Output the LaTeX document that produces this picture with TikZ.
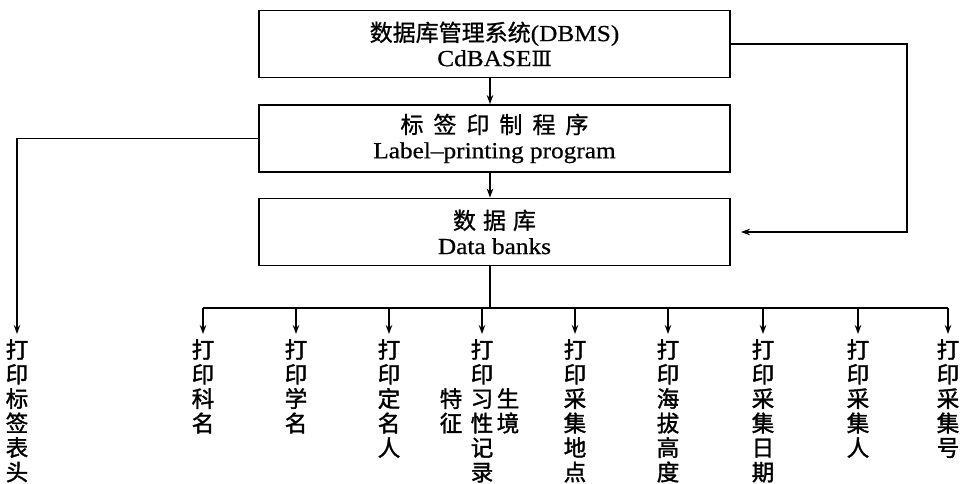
\documentclass[tikz,border=0pt]{standalone}
\usepackage{fontspec}
\setmainfont{Liberation Serif}[FakeStretch=1.1,FakeBold=0.6]
\newfontfamily\cjk{Noto Sans CJK SC}[FakeBold=1.0]
\newfontfamily\cjkb{Noto Sans CJK SC}[FakeBold=1.6]
\newfontfamily\romfont{DejaVu Serif}[FakeBold=0.6]
\usetikzlibrary{arrows.meta,calc}
\begin{document}
\begin{tikzpicture}[x=1pt,y=-1pt,
  box/.style={draw, line width=1.8pt, minimum width=471pt, minimum height=67pt,
    inner sep=0pt, align=center, font=\fontsize{23}{25}\selectfont},
  lbl/.style={anchor=north, inner sep=0pt, align=center,
    font=\cjkb\fontsize{22.5}{24.5}\selectfont},
  conn/.style={line width=1.6pt},
  arr/.style={conn, -{Stealth[length=9pt,width=6.5pt]}}]
\useasboundingbox (0,0) rectangle (961,484);
% boxes
\node[box] (dbms) at (494.5,44) {{\cjk 数据库管理系统}(DBMS)\\CdBASE{\romfont\fontsize{21}{25}\selectfont Ⅲ}};
\node[box] (lp) at (494.5,138.5) {{\cjk 标\hspace{10pt}签\hspace{10pt}印\hspace{10pt}制\hspace{10pt}程\hspace{10pt}序}\\Label--printing program};
\node[box] (db) at (494.5,232) {{\cjk 数\hspace{7pt}据\hspace{7pt}库}\\Data banks};
\coordinate (stem) at (490,0);
\coordinate (rc) at (907,0);
\coordinate (busy) at (0,308);
% labels
\node[lbl] (t0) at (17,339) {打\\印\\标\\签\\表\\头};
\node[lbl] (t1) at (203,339) {打\\印\\科\\名};
\node[lbl] (t2) at (296,339) {打\\印\\学\\名};
\node[lbl] (t3) at (389,339) {打\\印\\定\\名\\人};
\node[lbl] (t4) at (482,339) {打\\印\\习\\性\\记\\录};
\node[lbl] (t4a) at (451,388) {特\\征};
\node[lbl] (t4b) at (508,388) {生\\境};
\node[lbl] (t5) at (575,339) {打\\印\\采\\集\\地\\点};
\node[lbl] (t6) at (668,339) {打\\印\\海\\拔\\高\\度};
\node[lbl] (t7) at (763,339) {打\\印\\采\\集\\日\\期};
\node[lbl] (t8) at (858,339) {打\\印\\采\\集\\人};
\node[lbl] (t9) at (948,339) {打\\印\\采\\集\\号};
% connectors
\draw[arr] (dbms.south -| stem) -- (lp.north -| stem);
\draw[arr] (lp.south -| stem) -- (db.north -| stem);
\draw[arr, shorten >=10pt] (dbms.east) -- (dbms.east -| rc) |- (db.east);
\draw[arr, shorten >=5pt] (lp.west) -| (t0.north);
\draw[conn] (db.south -| stem) -- (stem |- busy);
\draw[conn] (t1.north |- busy) -- (t9.north |- busy);
\foreach \i in {1,...,9}{
  \draw[arr, shorten >=5pt] (t\i.north |- busy) -- (t\i.north);
}
\end{tikzpicture}
\end{document}
